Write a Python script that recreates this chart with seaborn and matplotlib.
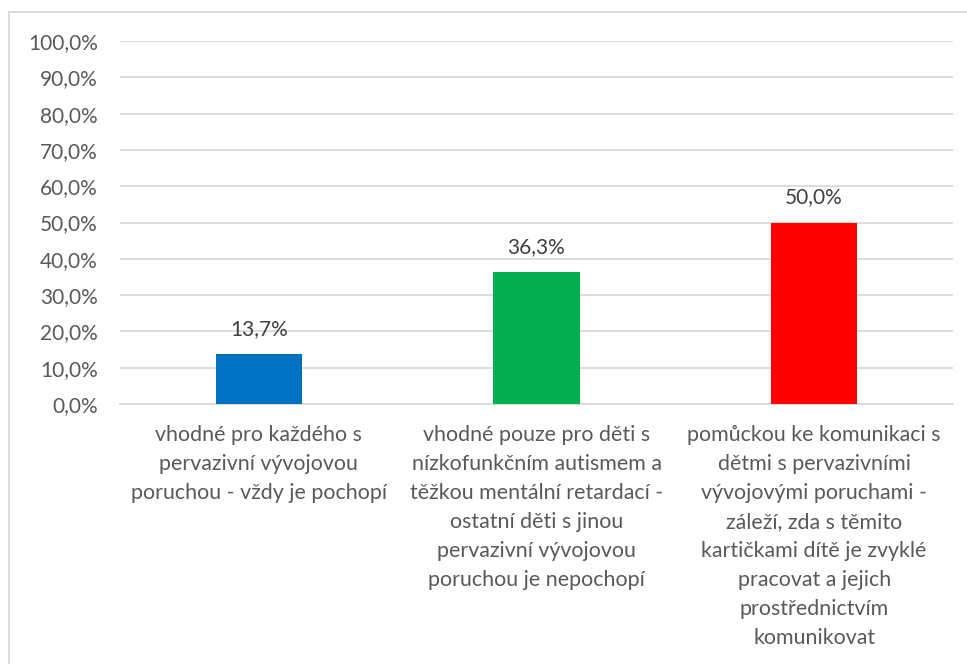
import seaborn as sns
import matplotlib.pyplot as plt
import pandas as pd
from matplotlib.patches import Rectangle

# answers (wrapped like in the original chart)
categories = [
    "vhodné pro každého s\npervazivní vývojovou\nporuchou - vždy je pochopí",
    "vhodné pouze pro děti s\nnízkofunkčním autismem a\ntěžkou mentální retardací -\nostatní děti s jinou\npervazivní vývojovou\nporuchou je nepochopí",
    "pomůckou ke komunikaci s\ndětmi s pervazivními\nvývojovými poruchami -\nzáleží, zda s těmito\nkartičkami dítě je zvyklé\npracovat a jejich\nprostřednictvím\nkomunikovat",
]
values = [13.7, 36.3, 50.0]
bar_colors = ["#0070C0", "#00B050", "#FF0000"]
y_ticks = [0, 10, 20, 30, 40, 50, 60, 70, 80, 90, 100]

df = pd.DataFrame({"odpoved": categories, "podil": values})

sns.set_style("white")
plt.rcParams["font.family"] = ["Lato", "DejaVu Sans"]
text_gray = "#595959"
grid_gray = "#D9D9D9"
fs = 15

fig = plt.figure(figsize=(9.67, 6.64), dpi=100)
ax = fig.add_axes([120 / 967, 1 - 404 / 664, 833 / 967, 363 / 664])

sns.barplot(data=df, x="odpoved", y="podil", hue="odpoved", palette=bar_colors,
            saturation=1, linewidth=0, width=0.31, legend=False, ax=ax, zorder=3)

ax.set_ylim(0, 100)
ax.set_yticks(y_ticks)
ax.set_yticklabels([f"{t:.1f}".replace(".", ",") + "%" for t in y_ticks],
                   fontsize=fs, color=text_gray)
ax.yaxis.grid(True, color=grid_gray, linewidth=1.3, zorder=0)
ax.set_axisbelow(True)
for s in ["top", "right", "left"]:
    ax.spines[s].set_visible(False)
ax.spines["bottom"].set_color(grid_gray)
ax.spines["bottom"].set_linewidth(1.3)
ax.tick_params(axis="y", length=0, pad=16)
ax.tick_params(axis="x", length=0, pad=15)
ax.set_xlabel("")
ax.set_ylabel("")
for lbl in ax.get_xticklabels():
    lbl.set_fontsize(15.4)
    lbl.set_color(text_gray)
    lbl.set_linespacing(1.56)
    lbl.set_verticalalignment("top")

# data labels above bars
for i, v in enumerate(values):
    ax.annotate(f"{v:.1f}".replace(".", ",") + "%", (i, v), xytext=(0, 18),
                textcoords="offset points", ha="center", va="center",
                fontsize=fs, color="#404040")

# chart border
fig.patches.append(Rectangle((9 / 967, -0.05), 1.1, 1 - 12 / 664 + 0.05,
                             transform=fig.transFigure, fill=False,
                             edgecolor=grid_gray, linewidth=1.3))

plt.savefig("out.png", dpi=100)
